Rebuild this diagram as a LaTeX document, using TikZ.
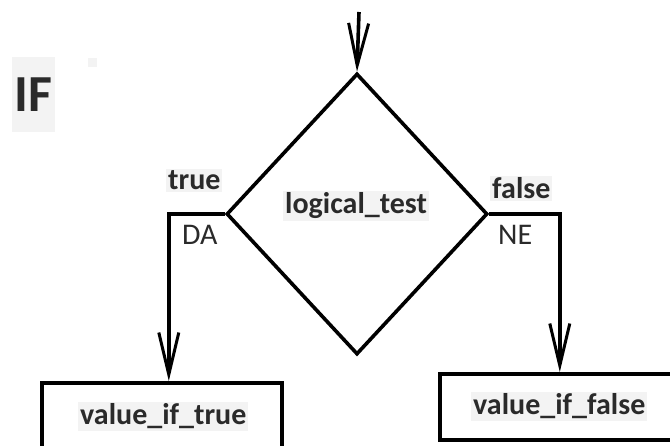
\documentclass[tikz,border=0pt]{standalone}
\usepackage{fontspec}
\setmainfont{Carlito}
\usetikzlibrary{arrows.meta,shapes.geometric}
\definecolor{ink}{HTML}{2A2A2A}
\definecolor{patch}{HTML}{F3F3F3}

\begin{document}
\begin{tikzpicture}[x=1pt,y=-1pt,
  stroke/.style={line width=3.6pt},
  flow/.style={stroke, -{Straight Barb[length=42pt,width=20pt,line width=3pt]}},
  box/.style={draw, stroke, rectangle, inner sep=0pt, anchor=north west},
  lbl/.style={font=\fontsize{30}{36}\selectfont\bfseries, text=ink, fill=patch,
    inner sep=2pt, anchor=base west},
  tag/.style={font=\fontsize{30}{36}\selectfont, text=ink, inner sep=0pt, anchor=base west}
]
\useasboundingbox (0,0) rectangle (670,446);

% title
\fill[patch] (12,57) rectangle (55,132);
\fill[patch] (88,58) rectangle (97,67);
\node[font=\fontsize{52}{60}\selectfont\bfseries, text=ink, inner sep=0pt,
  anchor=base west] (title) at (14,112) {IF};

% decision
\node[draw, stroke, diamond, inner sep=0pt, minimum width=261pt,
  minimum height=281pt] (test) at (357,214) {};
\node[lbl] (testtxt) at (283,214) {logical\_test};

% outcome boxes
\node[box, minimum width=240pt, minimum height=72pt] (tbox) at (40,381) {};
\node[box, minimum width=250pt, minimum height=66pt] (fbox) at (438,372) {};
\node[lbl] (ttxt) at (78,425) {value\_if\_true};
\node[lbl] (ftxt) at (471,415) {value\_if\_false};

% branch labels
\node[lbl] (tlab) at (166,190) {true};
\node[tag] (da) at (182,245) {DA};
\node[lbl] (flab) at (490,199) {false};
\node[tag] (ne) at (498,245) {NE};

% connectors
\coordinate (entry) at (359,12);
\draw[flow] (entry) -- (test.north);
\draw[flow] (test.west) -| ([xshift=7pt]tbox.north);
\draw[flow] (test.east) -| ([xshift=-5pt]fbox.north);
\end{tikzpicture}
\end{document}
